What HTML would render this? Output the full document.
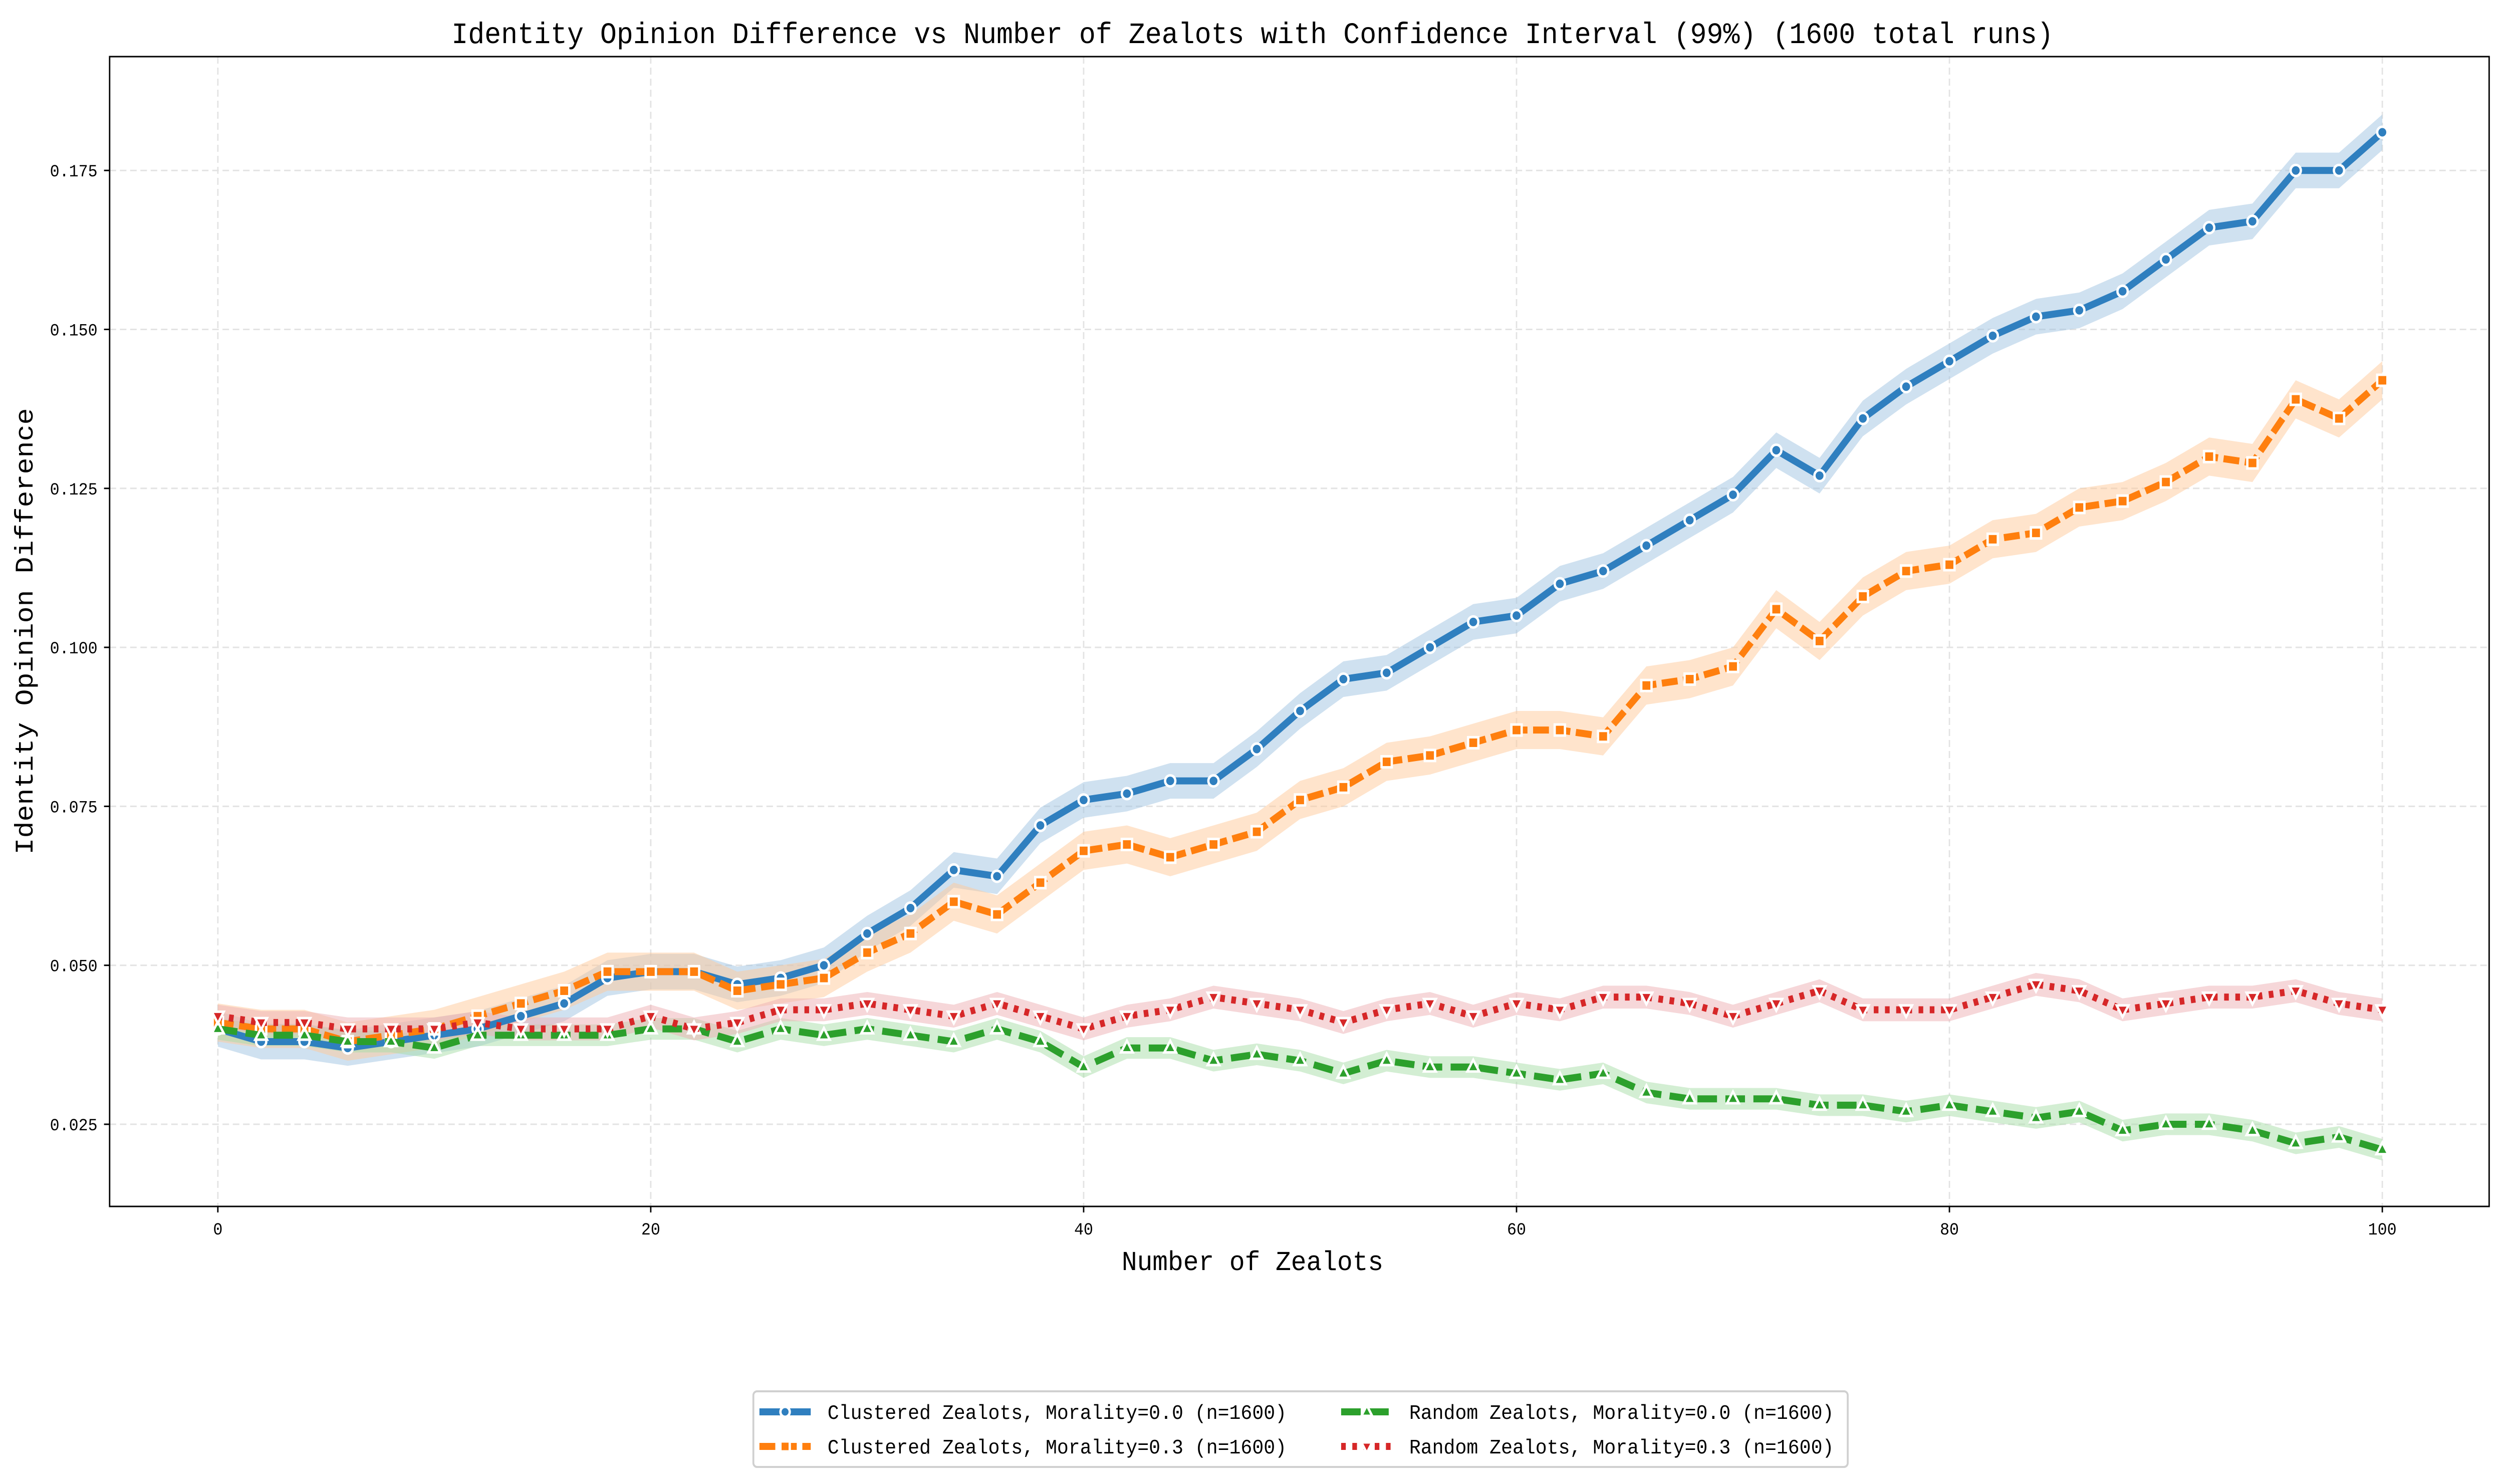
<!DOCTYPE html>
<html><head><meta charset="utf-8"><style>
html,body{margin:0;padding:0;background:#fff;width:100vw;height:100vh;overflow:hidden;}
svg{display:block;position:absolute;left:0;top:0;width:100vw;height:100vh;font-family:"Liberation Mono",monospace;}
</style></head><body>
<svg id="chart" viewBox="0 0 5370 2962" preserveAspectRatio="none" xmlns="http://www.w3.org/2000/svg">
<rect width="5370" height="2962" fill="#fff"/>
<text x="2685" y="86" font-size="59" text-anchor="middle" fill="#000">Identity Opinion Difference vs Number of Zealots with Confidence Interval (99%) (1600 total runs)</text>
<g id="grid"></g>
<g id="bands"></g>
<g id="lines"></g>
<g id="axes"></g>
<text x="2685" y="2535" font-size="55" text-anchor="middle" fill="#000">Number of Zealots</text>
<text transform="translate(70,1260) rotate(-90)" font-size="55" text-anchor="middle" fill="#000">Identity Opinion Difference</text>
<g id="legend"></g>
</svg>
<script>
const xs = [0,2,4,6,8,10,12,14,16,18,20,22,24,26,28,30,32,34,36,38,40,42,44,46,48,50,52,54,56,58,60,62,64,66,68,70,72,74,76,78,80,82,84,86,88,90,92,94,96,98,100];
const clustered0 = [0.040,0.038,0.038,0.037,0.038,0.039,0.040,0.042,0.044,0.048,0.049,0.049,0.047,0.048,0.050,0.055,0.059,0.065,0.064,0.072,0.076,0.077,0.079,0.079,0.084,0.090,0.095,0.096,0.100,0.104,0.105,0.110,0.112,0.116,0.120,0.124,0.131,0.127,0.136,0.141,0.145,0.149,0.152,0.153,0.156,0.161,0.166,0.167,0.175,0.175,0.181];
const clustered3 = [0.041,0.040,0.040,0.038,0.039,0.040,0.042,0.044,0.046,0.049,0.049,0.049,0.046,0.047,0.048,0.052,0.055,0.060,0.058,0.063,0.068,0.069,0.067,0.069,0.071,0.076,0.078,0.082,0.083,0.085,0.087,0.087,0.086,0.094,0.095,0.097,0.106,0.101,0.108,0.112,0.113,0.117,0.118,0.122,0.123,0.126,0.130,0.129,0.139,0.136,0.142];
const random0 = [0.040,0.039,0.039,0.038,0.038,0.037,0.039,0.039,0.039,0.039,0.040,0.040,0.038,0.040,0.039,0.040,0.039,0.038,0.040,0.038,0.034,0.037,0.037,0.035,0.036,0.035,0.033,0.035,0.034,0.034,0.033,0.032,0.033,0.030,0.029,0.029,0.029,0.028,0.028,0.027,0.028,0.027,0.026,0.027,0.024,0.025,0.025,0.024,0.022,0.023,0.021];
const random3 = [0.042,0.041,0.041,0.040,0.040,0.040,0.041,0.040,0.040,0.040,0.042,0.040,0.041,0.043,0.043,0.044,0.043,0.042,0.044,0.042,0.040,0.042,0.043,0.045,0.044,0.043,0.041,0.043,0.044,0.042,0.044,0.043,0.045,0.045,0.044,0.042,0.044,0.046,0.043,0.043,0.043,0.045,0.047,0.046,0.043,0.044,0.045,0.045,0.046,0.044,0.043];
const ciHalf = [0.0028,0.0030,0.0017,0.0018];
const xTicks = [0,20,40,60,80,100];
const yTicks = [0.025,0.050,0.075,0.100,0.125,0.150,0.175];
const yTickLabels = ["0.025","0.050","0.075","0.100","0.125","0.150","0.175"];
const seriesNames = ["Clustered Zealots, Morality=0.0 (n=1600)","Clustered Zealots, Morality=0.3 (n=1600)","Random Zealots, Morality=0.0 (n=1600)","Random Zealots, Morality=0.3 (n=1600)"];

const NS="http://www.w3.org/2000/svg";
const L=235,R=5336,T=113,B=2408;
const xS=v=>467+v*46.4;
const yS=v=>2244-(v-0.025)/0.025*317.3;
function mk(tag,attrs,parent){const e=document.createElementNS(NS,tag);for(const k in attrs)e.setAttribute(k,attrs[k]);parent.appendChild(e);return e;}
const grid=document.getElementById('grid'),axes=document.getElementById('axes'),bands=document.getElementById('bands'),lines=document.getElementById('lines'),legend=document.getElementById('legend');

xTicks.forEach(t=>{
  const g=mk('line',{x1:xS(t),x2:xS(t),y1:T,y2:B,stroke:'#e3e3e3','stroke-width':3,'stroke-dasharray':'14 8'},grid);
  
  
  const tk=mk('line',{x1:xS(t),x2:xS(t),y1:B,y2:B+12,stroke:'#000','stroke-width':3},axes);
  
  
  const tx=mk('text',{x:xS(t),y:B+56,'font-size':34,'text-anchor':'middle',fill:'#000'},axes);
  
  
  tx.textContent=t;
});
yTicks.forEach((t,i)=>{
  const g=mk('line',{x1:L,x2:R,y1:yS(t),y2:yS(t),stroke:'#e3e3e3','stroke-width':3,'stroke-dasharray':'14 8'},grid);
  
  
  const tk=mk('line',{x1:L-12,x2:L,y1:yS(t),y2:yS(t),stroke:'#000','stroke-width':3},axes);
  
  
  const tx=mk('text',{x:L-26,y:yS(t)+12,'font-size':34,'text-anchor':'end',fill:'#000'},axes);
  
  
  tx.textContent=yTickLabels[i];
});
const fr=mk('rect',{x:L,y:T,width:R-L,height:B-T,fill:'none',stroke:'#000','stroke-width':3},axes);



const colors=['#2f7fbf','#ff7f0e','#2ca02c','#d62728'];
const bandCol=['#9fc4e2','#ffc999','#a8dda8','#eeb0b3'];
const dashes=['none','34 12','42 18','10 14'];
const markers=['circle','square','tri-up','tri-down'];
const data=[clustered0,clustered3,random0,random3];
const keys=['clustered-m0','clustered-m3','random-m0','random-m3'];

function marker(type,cx,cy,col,parent,s){
  let e;
  if(type==='circle') e=mk('circle',{cx:cx,cy:cy,r:s},parent);
  else if(type==='square') e=mk('rect',{x:cx-s,y:cy-s,width:2*s,height:2*s},parent);
  else if(type==='tri-up') e=mk('polygon',{points:`${cx},${cy-s*1.3} ${cx-s*1.15},${cy+s*0.8} ${cx+s*1.15},${cy+s*0.8}`},parent);
  else e=mk('polygon',{points:`${cx},${cy+s*1.3} ${cx-s*1.15},${cy-s*0.8} ${cx+s*1.15},${cy-s*0.8}`},parent);
  e.setAttribute('fill',col);e.setAttribute('stroke','#fff');e.setAttribute('stroke-width',5);
  return e;
}

data.forEach((d,si)=>{
  const up=xs.map((x,i)=>`${xS(x)},${yS(d[i]+ciHalf[si])}`);
  const lo=xs.map((x,i)=>`${xS(x)},${yS(d[i]-ciHalf[si])}`).reverse();
  const b=mk('polygon',{points:up.concat(lo).join(' '),fill:bandCol[si],'fill-opacity':0.5},bands);
  
  
});
data.forEach((d,si)=>{
  const g=mk('g',{},lines);
  
  
  const pts=xs.map((x,i)=>`${xS(x)},${yS(d[i])}`).join(' ');
  const pl=mk('polyline',{points:pts,fill:'none',stroke:colors[si],'stroke-width':14,'stroke-dasharray':dashes[si],'stroke-linejoin':'round'},g);
  
  
  xs.forEach((x,i)=>{
    const m=marker(markers[si],xS(x),yS(d[i]),colors[si],g,11);
    
    
  });
});

const lb=mk('rect',{x:1615,y:2777,width:2346,height:151,rx:8,fill:'#fff',stroke:'#d0d0d0','stroke-width':4},legend);


const pos=[[1628,2818],[1628,2887],[2875,2818],[2875,2887]];
seriesNames.forEach((n,si)=>{
  const g=mk('g',{},legend);
  
  
  const [lx,ly]=pos[si];
  mk('line',{x1:lx,x2:lx+110,y1:ly,y2:ly,stroke:colors[si],'stroke-width':14,'stroke-dasharray':dashes[si]},g);
  marker(markers[si],lx+55,ly,colors[si],g,10);
  const t=mk('text',{x:lx+146,y:ly+14,'font-size':41,fill:'#000'},g);
  
  
  t.textContent=n;
});
</script>
</body></html>
